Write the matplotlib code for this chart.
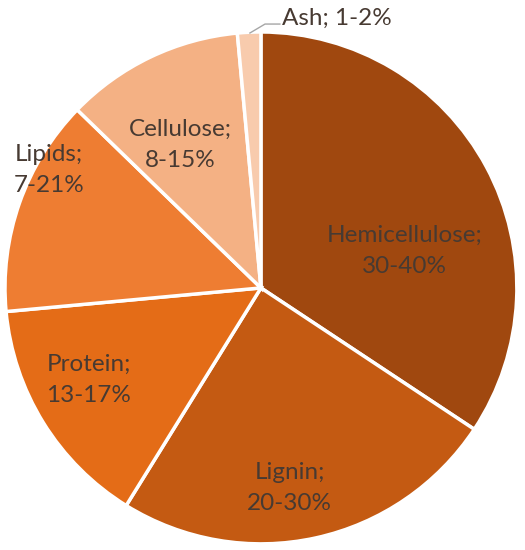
import matplotlib.pyplot as plt

# composition of biomass (midpoints of the ranges)
labels = ['Hemicellulose', 'Lignin', 'Protein', 'Lipids', 'Cellulose', 'Ash']
ranges = ['30-40%', '20-30%', '13-17%', '7-21%', '8-15%', '1-2%']
values = [35, 25, 15, 14, 11.5, 1.5]
colors = ['#A0480F', '#C45A12', '#E46C17', '#EE7D32', '#F4B184', '#F8CBAD']

plt.rcParams['font.family'] = ['Lato', 'DejaVu Sans']

fig = plt.figure(figsize=(5.25, 5.5), dpi=100)
ax = fig.add_axes([0.0095, 0.011, 0.975, 0.931])

ax.pie(values, colors=colors, startangle=90, counterclock=False,
       wedgeprops=dict(edgecolor='white', linewidth=2.5))
ax.set_xlim(-1, 1)
ax.set_ylim(-1, 1)
ax.set_aspect('equal')
ax.axis('off')

# label positions inside the slices
pos = {
    'Hemicellulose': (0.5625, 0.145),
    'Lignin': (0.113, -0.781),
    'Protein': (-0.672, -0.359),
    'Lipids': (-0.828, 0.461),
    'Cellulose': (-0.316, 0.559),
}
txtc = '#473a32'
fs = 17.5
for lab, rng in zip(labels, ranges):
    if lab in pos:
        x, y = pos[lab]
        ax.text(x, y, lab + ';\n' + rng, ha='center', va='center',
                fontsize=fs, color=txtc, linespacing=1.6)

# ash label outside with leader line
ax.plot([-0.043, 0.016, 0.074], [0.996, 1.031, 1.031], color='#a6a6a6',
        lw=1, clip_on=False)
ax.text(0.082, 1.055, 'Ash; 1-2%', ha='left', va='center', fontsize=fs,
        color=txtc, clip_on=False)

fig.savefig('out.png')
